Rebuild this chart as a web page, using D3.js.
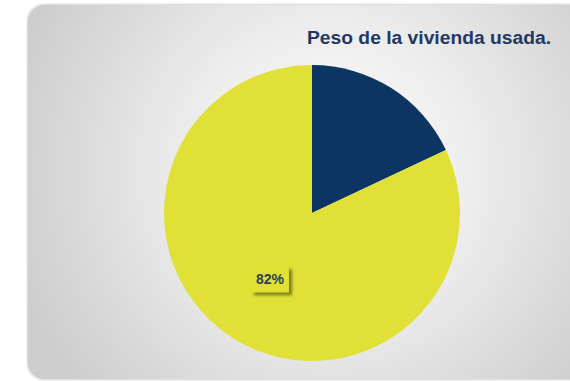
<!DOCTYPE html>
<html>
<head>
<meta charset="utf-8">
<script src="https://cdn.jsdelivr.net/npm/d3@7"></script>
<style>
  html, body { margin: 0; padding: 0; background: #ffffff; }
  svg { display: block; }
</style>
</head>
<body>
<svg id="chart" width="570" height="381"></svg>
<script>
// Share of housing segments
const categories = ["Vivienda nueva", "Vivienda usada"];
const values = [18, 82];
const labels = ["", "82%"];
const colors = ["#0c3563", "#e0e036"];
const title = "Peso de la vivienda usada.";

const W = 570, H = 381;
const svg = d3.select("#chart");
const defs = svg.append("defs");

// panel background: soft radial light behind the pie
const grad = defs.append("radialGradient")
  .attr("id", "panelGrad")
  .attr("gradientUnits", "userSpaceOnUse")
  .attr("cx", 330).attr("cy", 170).attr("r", 330);
grad.append("stop").attr("offset", "0").attr("stop-color", "#ffffff");
grad.append("stop").attr("offset", "0.45").attr("stop-color", "#ececec");
grad.append("stop").attr("offset", "1").attr("stop-color", "#cdcdcd");

const panelShadow = defs.append("filter").attr("id", "panelShadow")
  .attr("x", "-10%").attr("y", "-10%").attr("width", "120%").attr("height", "120%");
panelShadow.append("feGaussianBlur").attr("in", "SourceAlpha").attr("stdDeviation", 1.5).attr("result", "b");
panelShadow.append("feComponentTransfer").attr("in", "b").attr("result", "s")
  .append("feFuncA").attr("type", "linear").attr("slope", 0.35);
const pm = panelShadow.append("feMerge");
pm.append("feMergeNode").attr("in", "s");
pm.append("feMergeNode").attr("in", "SourceGraphic");

svg.append("rect")
  .attr("x", 28).attr("y", 5)
  .attr("width", 580).attr("height", 374)
  .attr("rx", 16).attr("ry", 16)
  .attr("fill", "url(#panelGrad)")
  .attr("filter", "url(#panelShadow)");

// pie
const cx = 312, cy = 213, R = 148;
const pie = d3.pie().sort(null).value(d => d)(values);
const arc = d3.arc().innerRadius(0).outerRadius(R);

const g = svg.append("g").attr("transform", `translate(${cx},${cy})`);
g.selectAll("path.slice")
  .data(pie)
  .join("path")
  .attr("class", "slice")
  .attr("d", arc)
  .attr("fill", (d, i) => colors[i]);

// data label with boxed shadow
const lblShadow = defs.append("filter").attr("id", "lblShadow")
  .attr("x", "-30%").attr("y", "-30%").attr("width", "170%").attr("height", "170%");
lblShadow.append("feGaussianBlur").attr("in", "SourceAlpha").attr("stdDeviation", 1.6).attr("result", "b");
lblShadow.append("feOffset").attr("in", "b").attr("dx", 3).attr("dy", 3).attr("result", "o");
lblShadow.append("feComponentTransfer").attr("in", "o").attr("result", "s")
  .append("feFuncA").attr("type", "linear").attr("slope", 0.45);
const lm = lblShadow.append("feMerge");
lm.append("feMergeNode").attr("in", "s");
lm.append("feMergeNode").attr("in", "SourceGraphic");

const labelArc = d3.arc().innerRadius(R * 0.53).outerRadius(R * 0.53);
pie.forEach((d, i) => {
  if (!labels[i]) return;
  const [lx, ly] = labelArc.centroid(d);
  const lg = g.append("g").attr("transform", `translate(${lx},${ly})`);
  lg.append("rect")
    .attr("x", -19).attr("y", -13)
    .attr("width", 38).attr("height", 26)
    .attr("fill", colors[i])
    .attr("filter", "url(#lblShadow)");
  lg.append("text")
    .attr("text-anchor", "middle")
    .attr("dy", "0.36em")
    .attr("font-family", "'Liberation Sans', Arial, sans-serif")
    .attr("font-weight", "bold")
    .attr("font-size", 14)
    .attr("fill", "#2b3f5c")
    .text(labels[i]);
});

// title
svg.append("text")
  .attr("x", 551).attr("y", 44)
  .attr("text-anchor", "end")
  .attr("font-family", "'Liberation Sans', Arial, sans-serif")
  .attr("font-weight", "bold")
  .attr("font-size", 18)
  .attr("textLength", 244)
  .attr("lengthAdjust", "spacingAndGlyphs")
  .attr("fill", "#1f3864")
  .text(title);
</script>
</body>
</html>
